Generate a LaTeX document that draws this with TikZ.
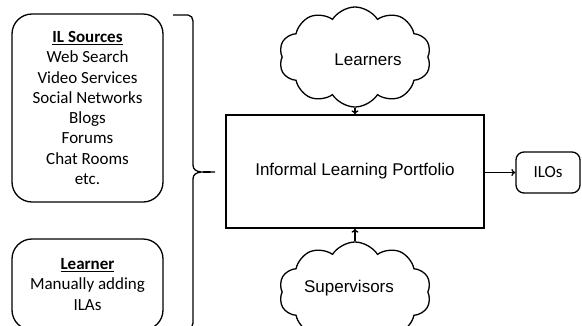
\documentclass[tikz,border=0pt]{standalone}
\usepackage{fontspec}
\setmainfont{Liberation Sans}
\newfontfamily\calibri{Carlito}
\usetikzlibrary{shapes.symbols,arrows.meta}

\begin{document}
\begin{tikzpicture}[x=1pt,y=-1pt,line width=1.3pt,>={To[length=4pt,width=7pt]},
  srcbox/.style={draw,rounded corners=20pt,minimum width=151pt,align=center,
    font=\calibri\fontsize{17}{20.3}\selectfont},
  cloudy/.style={draw,cloud,cloud puffs=10,cloud puff arc=115,cloud ignores aspect,
    minimum width=152pt,minimum height=100pt,inner sep=0pt},
  lbl/.style={font=\fontsize{17}{20}\selectfont}]
\useasboundingbox (0,0) rectangle (582,325);
\node[srcbox,minimum height=188pt] (sources) at (87.5,108) {\underline{\textbf{IL Sources}}\\Web Search\\Video Services\\Social Networks\\Blogs\\Forums\\Chat Rooms\\etc.};
\node[srcbox,minimum height=91pt] (learner) at (87.5,284.5) {\underline{\textbf{Learner}}\\Manually adding\\ILAs};
\draw (173,15) -- (188,15) to[out=0,in=90] (193,21) -- (193,165) to[out=-90,in=180] (215,172) to[out=180,in=90] (193,179) -- (193,323) to[out=-90,in=0] (188,329) -- (173,329);
\node[draw,lbl,minimum width=258pt,minimum height=113pt] (portfolio) at (355,171.5) {Informal Learning Portfolio};
\node[draw,rounded corners=8pt,minimum width=64pt,minimum height=41pt,font=\calibri\fontsize{17}{20}\selectfont] (ilos) at (548,172.5) {ILOs};
\node[cloudy] (learnersCloud) at (355,57) {};
\node[lbl] (learnersText) at (368,60) {Learners};
\node[cloudy] (supervisorsCloud) at (355,292) {};
\node[lbl] (supervisorsText) at (349,288) {Supervisors};
\draw[->] (learnersCloud.south) -- (learnersCloud.south |- portfolio.north);
\draw[->] (supervisorsCloud.north) -- (supervisorsCloud.north |- portfolio.south);
\draw[->] (portfolio.east |- ilos.west) -- (ilos.west);
\end{tikzpicture}
\end{document}
